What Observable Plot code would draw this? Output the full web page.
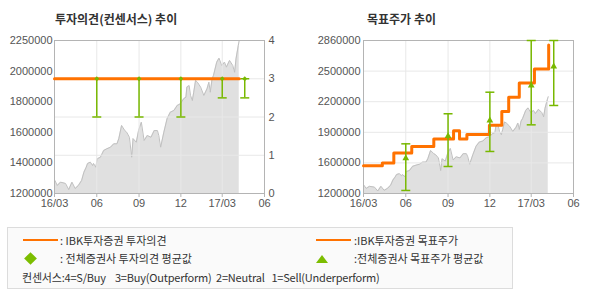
<!DOCTYPE html>
<html><head><meta charset="utf-8">
<script src="https://cdn.jsdelivr.net/npm/d3@7"></script>
<script src="https://cdn.jsdelivr.net/npm/@observablehq/plot@0.6"></script>
<style>
body{margin:0;background:#fff;width:590px;height:300px;position:relative;overflow:hidden;font-family:"Liberation Sans",Arial,sans-serif;}
.layer{position:absolute;top:28px;}
.title{position:absolute;top:11px;font:bold 12px/16px "Noto Sans CJK KR",sans-serif;color:#333;white-space:pre;}
.legend{position:absolute;left:7px;top:227px;width:504px;height:60px;border:1px solid #dcdcdc;background:#fafafa;}
.lt{position:absolute;font:11px/14px "Noto Sans CJK KR",sans-serif;color:#333;white-space:pre;}
.oline{position:absolute;height:2px;background:#ff7200;width:35px;}
</style></head><body>
<div class="title" style="left:55px">투자의견(컨센서스) 추이</div>
<div class="title" style="left:367px">목표주가 추이</div>
<div id="c1a" class="layer" style="left:0"></div>
<div id="c1b" class="layer" style="left:0"></div>
<div id="c2" class="layer" style="left:295px"></div>
<div class="legend"></div>
<div class="oline" style="left:23px;top:239px"></div>
<div class="lt" style="left:60px;top:233px">: IBK투자증권 투자의견</div>
<div class="oline" style="left:316px;top:239px"></div>
<div class="lt" style="left:354px;top:233px">:IBK투자증권 목표주가</div>
<div style="position:absolute;left:26px;top:254px;width:9px;height:9px;background:#7cbd00;transform:rotate(45deg)"></div>
<div class="lt" style="left:60px;top:251px">: 전체증권사 투자의견 평균값</div>
<div style="position:absolute;left:316px;top:255px;width:0;height:0;border-left:6px solid transparent;border-right:6px solid transparent;border-bottom:8px solid #7cbd00"></div>
<div class="lt" style="left:354px;top:251px">:전체증권사 목표주가 평균값</div>
<div class="lt" style="left:22px;top:270px;letter-spacing:-0.2px">컨센서스:4=S/Buy    3=Buy(Outperform)  2=Neutral   1=Sell(Underperform)</div>
<script>
// ---- data ----
const priceDates = ["2016-03-02","2016-03-07","2016-03-14","2016-03-25","2016-04-01","2016-04-08","2016-04-15","2016-04-22","2016-04-29","2016-05-04","2016-05-09","2016-05-12","2016-05-18","2016-05-23","2016-05-25","2016-05-30","2016-06-02","2016-06-09","2016-06-16","2016-06-23","2016-07-01","2016-07-08","2016-07-15","2016-07-19","2016-07-25","2016-08-01","2016-08-05","2016-08-11","2016-08-16","2016-08-19","2016-08-26","2016-08-31","2016-09-06","2016-09-12","2016-09-19","2016-09-27","2016-10-04","2016-10-11","2016-10-14","2016-10-18","2016-10-25","2016-11-01","2016-11-08","2016-11-16","2016-11-23","2016-11-30","2016-12-07","2016-12-12","2016-12-14","2016-12-19","2016-12-22","2016-12-26","2016-12-29","2017-01-02","2017-01-06","2017-01-13","2017-01-20","2017-01-27","2017-01-31","2017-02-03","2017-02-07","2017-02-10","2017-02-17","2017-02-22","2017-02-28","2017-03-06","2017-03-10","2017-03-17","2017-03-24","2017-03-28","2017-03-31","2017-04-05","2017-04-07"];
const priceValues = [1289000,1255000,1278000,1269000,1227000,1278000,1234000,1255000,1289000,1346000,1380000,1406000,1415000,1392000,1406000,1380000,1438000,1449000,1495000,1507000,1518000,1541000,1541000,1577000,1667000,1632000,1621000,1586000,1449000,1577000,1552000,1632000,1689000,1564000,1598000,1586000,1632000,1632000,1598000,1518000,1621000,1713000,1758000,1770000,1804000,1816000,1850000,1861000,1930000,1941000,1873000,1838000,1895000,1976000,1964000,1930000,1873000,1919000,1964000,1895000,1987000,2010000,2101000,2129000,2078000,2101000,2067000,2113000,2078000,2032000,2124000,2216000,2250000];

const ibkRatingDates = ["2016-03-01","2017-04-07"];
const ibkRatingValues = [3,3];

const consDates = ["2016-06-01","2016-09-01","2016-12-01","2017-03-01","2017-04-19"];
const consRatingAvg = [3,3,3,3,3];
const consRatingMin = [2,2,2,2.5,2.5];
const consRatingMax = [3,3,3,3,3];

const ibkTargetDates = ["2016-03-01","2016-04-11","2016-05-06","2016-06-14","2016-08-01","2016-09-13","2016-09-26","2016-10-12","2016-11-30","2016-12-27","2017-01-11","2017-02-03","2017-03-08","2017-04-08"];
const ibkTargetValues = [1500000,1530000,1640000,1710000,1790000,1880000,1790000,1840000,1940000,2090000,2245000,2400000,2550000,2810000];

const consTargetAvg = [1583000,1822000,1992000,2372000,2578000];
const consTargetMin = [1233000,1493000,1656000,1945000,2155000];
const consTargetMax = [1739000,2065000,2299000,2860000,2860000];

const xTickDates = ["2016-03-01","2016-06-01","2016-09-01","2016-12-01","2017-03-01","2017-06-01"];
const xTickLabels = ["16/03","06","09","12","17/03","06"];
const leftPriceDomain = [1200000, 2250000];
const leftPriceLabels = ["1200000","1400000","1600000","1800000","2000000","2250000"];
const ratingTicks = [0,1,2,3,4];
const rightPriceDomain = [1200000, 2860000];
const rightPriceLabels = ["1200000","1600000","1900000","2200000","2500000","2860000"];

// ---- build ----
const D = s => new Date(s);
const price = priceDates.map((d,i)=>({date:D(d), value:priceValues[i]}));
const ibkRating = ibkRatingDates.map((d,i)=>({date:D(d), value:ibkRatingValues[i]}));
const consRating = consDates.map((d,i)=>({date:D(d), avg:consRatingAvg[i], min:consRatingMin[i], max:consRatingMax[i]}));
const ibkTarget = ibkTargetDates.map((d,i)=>({date:D(d), value:ibkTargetValues[i]}));
const consTarget = consDates.map((d,i)=>({date:D(d), avg:consTargetAvg[i], min:consTargetMin[i], max:consTargetMax[i]}));
const xTicks = xTickDates.map(D);
const xDomain = [xTicks[0], xTicks[xTicks.length-1]];
const evenTicks = (dom, n) => d3.range(n).map(i => dom[0] + i*(dom[1]-dom[0])/(n-1));
const leftTicks = evenTicks(leftPriceDomain, leftPriceLabels.length);
const rightTicks = evenTicks(rightPriceDomain, rightPriceLabels.length);
const fmt = (vals, labels) => { const m = new Map(vals.map((v,i)=>[+v, labels[i]])); return d => m.get(+d) ?? ""; };

const GREEN = "#78b800", ORANGE = "#ff7200", GRID = "#e8e8e8", FRAME = "#b4b4b4";
const capSymbol = {draw(ctx, size){ const r = Math.sqrt(size/Math.PI); ctx.moveTo(-r,0); ctx.lineTo(r,0); }};
const baseStyle = {background:"transparent", fontFamily:"'Liberation Sans', Arial, sans-serif", fontSize:"11px", color:"#555", overflow:"visible"};
const dims = {width:295, height:190, marginTop:12, marginBottom:25};

// left chart bottom layer (price)
document.getElementById("c1a").append(Plot.plot({
  ...dims, marginLeft:54, marginRight:31, style:baseStyle,
  x:{type:"utc", domain:xDomain, axis:null},
  y:{domain:leftPriceDomain, axis:null},
  marks:[
    Plot.areaY(price, {x:"date", y1:()=>leftPriceDomain[0], y2:"value", fill:"#e0e0e0"}),
    Plot.line(price, {x:"date", y:"value", stroke:"#c0c0c0", strokeWidth:1}),
    Plot.gridX(xTicks, {stroke:GRID, strokeOpacity:1}),
    Plot.axisX(xTicks, {tickFormat:fmt(xTicks, xTickLabels), tickSize:4, tickPadding:2, stroke:FRAME, label:null}),
    Plot.axisY(leftTicks, {anchor:"left", tickFormat:fmt(leftTicks, leftPriceLabels), tickSize:0, tickPadding:2, label:null})
  ]
}));

// left chart top layer (rating)
document.getElementById("c1b").append(Plot.plot({
  ...dims, marginLeft:54, marginRight:31, style:baseStyle,
  x:{type:"utc", domain:xDomain, axis:null},
  y:{domain:[ratingTicks[0], ratingTicks[ratingTicks.length-1]], axis:null},
  marks:[
    Plot.gridY(ratingTicks.slice(1,-1), {stroke:GRID, strokeOpacity:1}),
    Plot.frame({stroke:FRAME}),
    Plot.ruleX(consRating, {x:"date", y1:"min", y2:"max", stroke:GREEN, strokeWidth:1.5}),
    Plot.dot(consRating, {x:"date", y:"min", symbol:capSymbol, r:4.5, stroke:GREEN, strokeWidth:1.5, fill:"none"}),
    Plot.dot(consRating, {x:"date", y:"max", symbol:capSymbol, r:4.5, stroke:GREEN, strokeWidth:1.5, fill:"none"}),
    Plot.line(ibkRating, {x:"date", y:"value", stroke:ORANGE, strokeWidth:3}),
    Plot.dot(consRating, {x:"date", y:"avg", symbol:"diamond2", r:2.2, fill:GREEN, stroke:"none"}),
    Plot.axisY(ratingTicks, {anchor:"right", tickSize:0, tickPadding:4, label:null})
  ]
}));

// right chart (target price)
document.getElementById("c2").append(Plot.plot({
  ...dims, marginLeft:68, marginRight:17, style:baseStyle,
  x:{type:"utc", domain:xDomain, axis:null},
  y:{domain:rightPriceDomain, axis:null},
  marks:[
    Plot.areaY(price, {x:"date", y1:()=>rightPriceDomain[0], y2:"value", fill:"#e0e0e0"}),
    Plot.line(price, {x:"date", y:"value", stroke:"#c0c0c0", strokeWidth:1}),
    Plot.gridX(xTicks, {stroke:GRID, strokeOpacity:1}),
    Plot.gridY(rightTicks.slice(1,-1), {stroke:GRID, strokeOpacity:1}),
    Plot.frame({stroke:FRAME}),
    Plot.line(ibkTarget, {x:"date", y:"value", curve:"step-after", stroke:ORANGE, strokeWidth:3}),
    Plot.ruleX(consTarget, {x:"date", y1:"min", y2:"max", stroke:GREEN, strokeWidth:1.5}),
    Plot.dot(consTarget, {x:"date", y:"min", symbol:capSymbol, r:4.5, stroke:GREEN, strokeWidth:1.5, fill:"none"}),
    Plot.dot(consTarget, {x:"date", y:"max", symbol:capSymbol, r:4.5, stroke:GREEN, strokeWidth:1.5, fill:"none"}),
    Plot.dot(consTarget, {x:"date", y:"avg", symbol:"triangle", r:2.5, fill:GREEN, stroke:"none"}),
    Plot.axisX(xTicks, {tickFormat:fmt(xTicks, xTickLabels), tickSize:4, tickPadding:2, stroke:FRAME, label:null}),
    Plot.axisY(rightTicks, {anchor:"left", tickFormat:fmt(rightTicks, rightPriceLabels), tickSize:0, tickPadding:3, label:null})
  ]
}));
</script>
</body></html>
